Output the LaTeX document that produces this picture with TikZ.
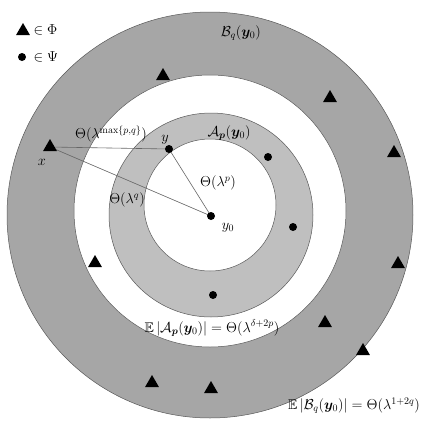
\documentclass[tikz,border=0pt]{standalone}
\usepackage{amsmath,amssymb,bm}
\usetikzlibrary{shapes.geometric}
\tikzstyle{tri} = [regular polygon, regular polygon sides=3, fill=black, inner sep=0pt, minimum size=16pt]
\tikzstyle{blob} = [circle, fill=black, inner sep=0pt, minimum size=8pt]
\tikzstyle{ring} = [draw=black!65, line width=0.5pt]
\tikzstyle{link} = [draw=black!60, line width=0.6pt]
\colorlet{darkring}{black!35}
\colorlet{lightring}{black!25}

\begin{document}
\begin{tikzpicture}[x=1pt,y=-1pt,font=\fontsize{14}{16}\selectfont]
        \useasboundingbox (0,0) rectangle (436,437);
        % annuli
        \filldraw[ring, fill=darkring] (210,215) circle (203);
        \filldraw[ring, fill=white] (210,211) circle (136);
        \filldraw[ring, fill=lightring] (211,215) circle (102);
        \filldraw[ring, fill=white] (210,205) circle (66);
        % points
        \coordinate (x) at (50,147);
        \coordinate (y) at (169,149);
        \coordinate (y0) at (211,216);
        \draw[link] (x) -- (y);
        \draw[link] (x) -- (y0);
        \draw[link] (y) -- (y0);
        \node[tri] (tx) at (x) {};
        \node[blob] (dy) at (y) {};
        \node[blob] (dy0) at (y0) {};
        \node[blob] (d1) at (268,157) {};
        \node[blob] (d2) at (293,227) {};
        \node[blob] (d3) at (213,295) {};
        \node[tri] (t1) at (163,76) {};
        \node[tri] (t2) at (330,98) {};
        \node[tri] (t3) at (394,153) {};
        \node[tri] (t4) at (398,264) {};
        \node[tri] (t5) at (95,263) {};
        \node[tri] (t6) at (325,323) {};
        \node[tri] (t7) at (363,351) {};
        \node[tri] (t8) at (152,383) {};
        \node[tri] (t9) at (211,389) {};
        % legend
        \node[tri] (lt) at (23,31) {};
        \node[anchor=west] (lphi) at (30,30) {$\in\Phi$};
        \node[blob] (ld) at (22,57) {};
        \node[anchor=west] (lpsi) at (30,57) {$\in\Psi$};
        % labels
        \node (lx) at (42,162) {$x$};
        \node (ly) at (165,140) {$y$};
        \node (ly0) at (228,228) {$y_0$};
        \node (lmax) at (111,134) {$\Theta(\lambda^{\max\{p,q\}})$};
        \node (lq) at (127,200) {$\Theta(\lambda^{q})$};
        \node (lp) at (218,183) {$\Theta(\lambda^{p})$};
        \node (lB) at (241,33) {$\mathcal{B}_q(\bm{y}_0)$};
        \node (lA) at (229,133) {$\mathcal{A}_{\bm{p}}(\bm{y}_0)$};
        \node (eA) at (212,328) {$\mathbb{E}\left|\mathcal{A}_{\bm{p}}(\bm{y}_0)\right|=\Theta(\lambda^{\delta+2p})$};
        \node (eB) at (354,406) {$\mathbb{E}\left|\mathcal{B}_q(\bm{y}_0)\right|=\Theta(\lambda^{1+2q})$};
\end{tikzpicture}
\end{document}
